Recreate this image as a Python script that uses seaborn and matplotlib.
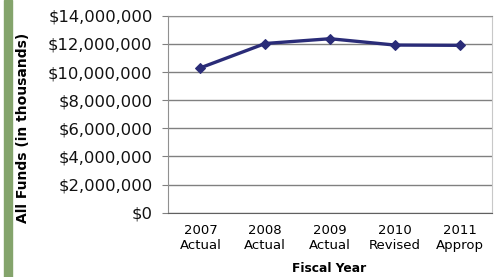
import numpy as np
import pandas as pd
import matplotlib
matplotlib.use('Agg')
import matplotlib.pyplot as plt
import matplotlib.ticker as mticker
import seaborn as sns

# data
years = ['2007\nActual', '2008\nActual', '2009\nActual', '2010\nRevised', '2011\nApprop']
funds = [10300000, 12030000, 12370000, 11920000, 11900000]

df = pd.DataFrame({'year': years, 'funds': funds})

sns.set_style('white')
plt.rcParams['font.family'] = ['DejaVu Sans']
plt.rcParams['text.color'] = 'black'
plt.rcParams['xtick.color'] = 'black'
plt.rcParams['ytick.color'] = 'black'

fig = plt.figure(figsize=(5, 2.77), dpi=100)
ax = fig.add_axes([0.336, 0.232, 0.648, 0.711])

sns.lineplot(data=df, x='year', y='funds', ax=ax, color='#2a2c78', lw=2.4,
             marker='D', markersize=5, markeredgecolor='#2a2c78', sort=False)

ax.set_xlim(-0.5, 4.5)
ax.set_ylim(0, 14000000)
ax.yaxis.set_major_locator(mticker.MultipleLocator(2000000))
ax.yaxis.set_major_formatter(mticker.FuncFormatter(lambda v, p: '${:,.0f}'.format(v)))
ax.grid(axis='y', color='#808080', lw=1)
ax.set_axisbelow(True)

# tick marks sit between categories
ax.set_xticks(np.arange(5))
ax.set_xticks(np.arange(-0.5, 5, 1), minor=True)
ax.tick_params(axis='x', which='major', length=0, pad=8, labelsize=9.5, labelcolor='black')
ax.tick_params(axis='x', which='minor', length=4, direction='out', color='#808080', width=1)
ax.tick_params(axis='y', length=4, direction='out', color='#808080', labelsize=11.8,
               pad=7, left=True, labelcolor='#111111')

for s in ['left', 'top']:
    ax.spines[s].set_color('#909090')
ax.spines['right'].set_color('#c8c8c8')
ax.spines['bottom'].set_color('#606060')

ax.set_xlabel('')
ax.set_ylabel('')
fig.text(0.658, 0.032, 'Fiscal Year', fontsize=8.8, fontweight='bold',
         ha='center', va='center', color='black')
fig.text(0.046, 0.54, 'All Funds (in thousands)', rotation=90, fontsize=10,
         fontweight='bold', ha='center', va='center', color='black')

# green strip at left edge
fig.patches.append(matplotlib.patches.Rectangle((0.008, 0), 0.016, 1,
                   transform=fig.transFigure, color='#84a46c', zorder=0))

fig.savefig('out.png', dpi=100)
